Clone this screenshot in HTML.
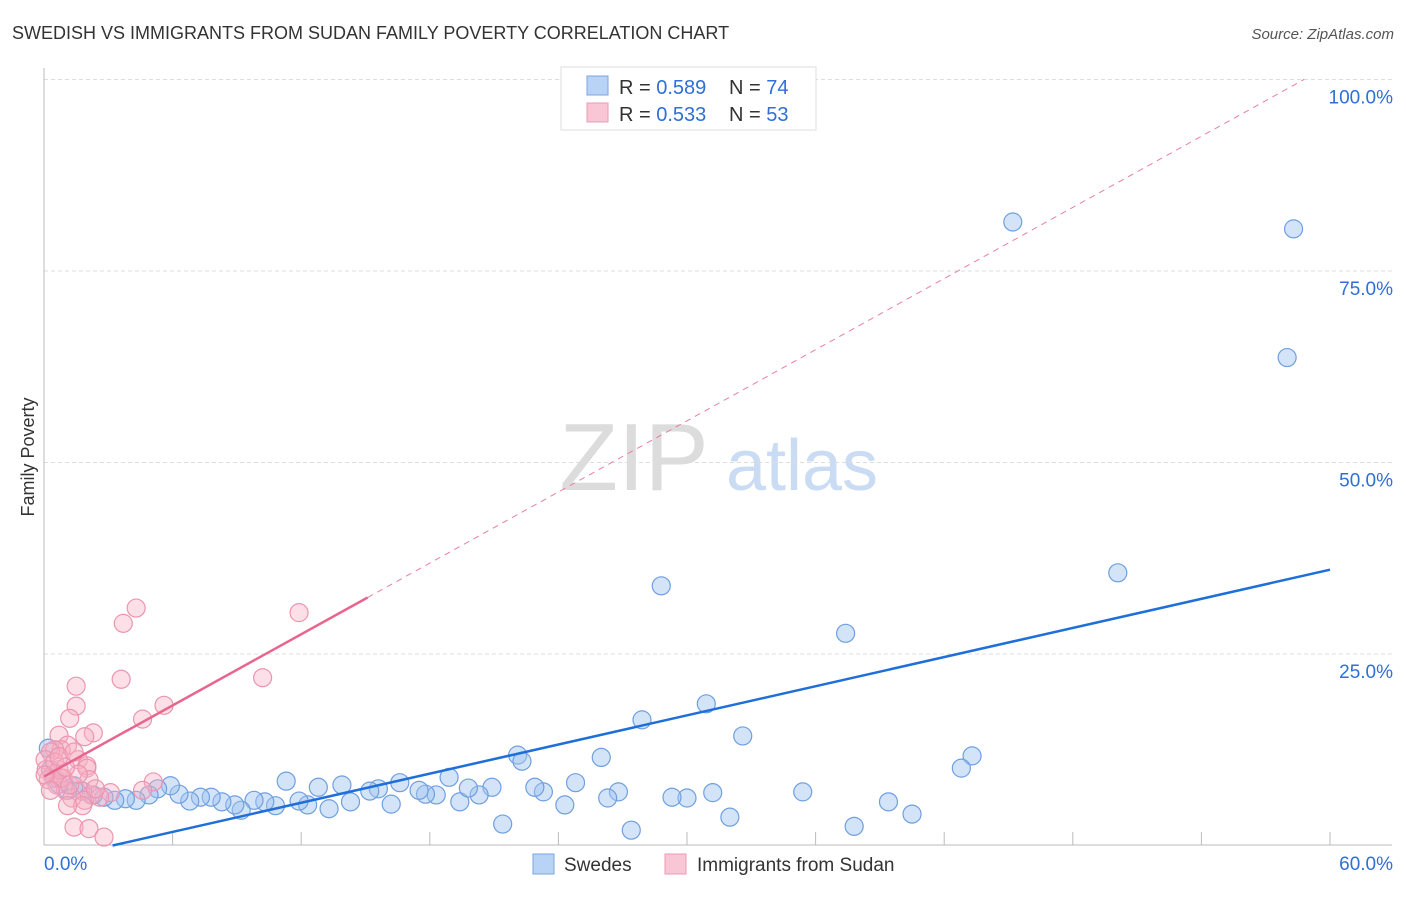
<!DOCTYPE html>
<html><head><meta charset="utf-8">
<style>
body{margin:0;background:#fff;font-family:"Liberation Sans",sans-serif;}
svg text{font-family:"Liberation Sans",sans-serif;}
</style></head>
<body>
<svg id="chart" width="1406" height="892">
<text x="12" y="39" font-size="18" fill="#333">SWEDISH VS IMMIGRANTS FROM SUDAN FAMILY POVERTY CORRELATION CHART</text>
<text x="1394" y="39" font-size="15" fill="#555" text-anchor="end" font-style="italic">Source: ZipAtlas.com</text>
<text x="34" y="457" font-size="18" fill="#333" text-anchor="middle" transform="rotate(-90 34 457)">Family Poverty</text>
<g>
<text x="634" y="490" font-size="96" fill="#dcdcdc" text-anchor="middle" font-family="Liberation Serif, serif">ZIP</text>
<text x="802" y="490" font-size="72" fill="#c9dcf3" text-anchor="middle">atlas</text>
</g>
<g id="grid"></g>
<g id="axes"></g>
<g id="pts"></g>
<g id="trend"></g>
<g>
<rect x="561" y="67" width="255" height="63" fill="#fff" stroke="#ddd"/>
<rect x="587" y="76" width="21" height="19" fill="#b8d3f5" stroke="#7aa5e3"/>
<rect x="587" y="103" width="21" height="19" fill="#f9c6d5" stroke="#eb9bb4"/>
<text x="619" y="94" font-size="20" fill="#333">R = <tspan fill="#2f6fd6">0.589</tspan></text>
<text x="729" y="94" font-size="20" fill="#333">N = <tspan fill="#2f6fd6">74</tspan></text>
<text x="619" y="121" font-size="20" fill="#333">R = <tspan fill="#2f6fd6">0.533</tspan></text>
<text x="729" y="121" font-size="20" fill="#333">N = <tspan fill="#2f6fd6">53</tspan></text>
</g>
<g>
<rect x="533" y="854" width="21" height="20" fill="#b8d3f5" stroke="#7aa5e3"/>
<text x="564" y="871" font-size="19" fill="#333">Swedes</text>
<rect x="665" y="854" width="21" height="20" fill="#f9c6d5" stroke="#eb9bb4"/>
<text x="697" y="871" font-size="19" fill="#333">Immigrants from Sudan</text>
</g>
</svg>
<script>
const xTicks=[0,6,12,18,24,30,36,42,48,54,60];
const yTicks=[25,50,75,100];
const yTickLabels=["25.0%","50.0%","75.0%","100.0%"];
const xLabels=["0.0%","60.0%"];
const blueX=[45.2,58.3,58.0,50.1,28.8,37.4,30.9,27.9,32.6,22.1,22.3,26.0,43.3,42.8,35.4,31.2,30.0,29.3,26.8,26.3,24.8,24.3,23.3,22.9,20.9,20.3,19.4,19.8,18.9,18.3,17.8,17.5,16.6,16.2,15.6,15.2,14.3,13.9,13.3,12.8,12.3,11.9,11.3,10.8,10.3,9.8,9.2,8.9,8.3,7.8,7.3,6.8,6.3,5.9,5.3,4.9,4.3,3.8,3.3,2.8,2.3,1.8,1.4,1.1,0.7,0.5,0.3,0.2,21.4,27.4,32.0,37.8,40.5,39.4];
const blueY=[81.4,80.5,63.7,35.6,33.9,27.7,18.5,16.4,14.3,11.8,11.0,11.5,11.7,10.1,7.0,6.9,6.2,6.3,7.0,6.2,8.2,5.3,7.0,7.6,7.6,6.6,5.7,7.5,8.9,6.6,6.7,7.2,8.2,5.4,7.4,7.1,5.7,7.9,4.8,7.6,5.3,5.8,8.4,5.2,5.7,5.9,4.6,5.3,5.7,6.3,6.3,5.8,6.7,7.8,7.4,6.6,5.9,6.1,5.9,6.3,6.6,7.1,7.8,7.2,8.0,8.8,9.9,12.7,2.8,2.0,3.7,2.5,4.1,5.7];
const pinkX=[4.3,3.7,11.9,3.6,10.2,1.5,1.5,5.6,4.6,1.2,2.3,1.9,0.7,1.1,0.8,0.5,0.3,0.05,1.6,2.0,0.1,0.4,0.9,0.2,0.6,1.0,1.7,2.2,1.9,1.3,1.8,1.1,3.1,5.1,4.6,2.0,1.4,2.1,2.8,0.7,0.8,1.2,0.05,0.3,0.5,2.1,2.6,1.6,1.0,0.7,1.4,2.4];
const pinkY=[31.0,29.0,30.4,21.7,21.9,20.8,18.2,18.3,16.5,16.6,14.7,14.2,14.4,13.1,12.5,12.5,12.2,11.2,11.2,10.4,9.9,9.2,8.8,8.6,7.9,7.2,7.2,6.6,5.9,6.2,5.2,5.2,6.9,8.3,7.2,10.1,2.4,2.2,1.1,9.9,8.8,7.9,9.2,7.2,10.9,8.6,6.3,9.3,10.2,11.6,12.2,7.4];
const blueTrend=[3.2,60];
const blueCoef=[-2.03,0.634];
const pinkTrend=[0,15.1,58.8];
const pinkCoef=[9.0,1.548];

const NS="http://www.w3.org/2000/svg";
const X=v=>44+v/60*1286;
const Y=v=>845.5-v/25*191.5;
function mk(tag,attrs,parent){const e=document.createElementNS(NS,tag);for(const k in attrs)e.setAttribute(k,attrs[k]);parent.appendChild(e);return e;}
const grid=document.getElementById('grid'),axes=document.getElementById('axes'),pts=document.getElementById('pts'),trend=document.getElementById('trend');
yTicks.forEach((t,i)=>{
 const l=mk('line',{x1:44,x2:1392,y1:Y(t),y2:Y(t),stroke:'#ddd','stroke-dasharray':'4 3'},grid);
 
 
 const tx=mk('text',{x:1393,y:Y(t)+24,'font-size':19,fill:'#2f6fd6','text-anchor':'end'},axes);
 tx.textContent=yTickLabels[i];
 
 
});
const ya=mk('line',{x1:44,x2:44,y1:68,y2:845,stroke:'#bbb'},axes);


const xa=mk('line',{x1:44,x2:1392,y1:845,y2:845,stroke:'#bbb'},axes);


xTicks.forEach(t=>{
 const l=mk('line',{x1:X(t),x2:X(t),y1:832,y2:845,stroke:'#bbb'},axes);
 
 
});
const xl0=mk('text',{x:44,y:870,'font-size':19,fill:'#2f6fd6'},axes);xl0.textContent=xLabels[0];


const xl1=mk('text',{x:1393,y:870,'font-size':19,fill:'#2f6fd6','text-anchor':'end'},axes);xl1.textContent=xLabels[1];


blueX.forEach((v,i)=>{
 const c=mk('circle',{cx:X(v),cy:Y(blueY[i]),r:9,fill:'rgba(160,195,240,0.45)',stroke:'#6f9fe0','stroke-width':1.2},pts);
 
 
});
pinkX.forEach((v,i)=>{
 const c=mk('circle',{cx:X(v),cy:Y(pinkY[i]),r:9,fill:'rgba(247,175,196,0.4)',stroke:'#eb95b0','stroke-width':1.2},pts);
 
 
});
const bf=x=>blueCoef[0]+blueCoef[1]*x, pf=x=>pinkCoef[0]+pinkCoef[1]*x;
const bl=mk('line',{x1:X(blueTrend[0]),y1:Y(bf(blueTrend[0])),x2:X(blueTrend[1]),y2:Y(bf(blueTrend[1])),stroke:'#1f6fd9','stroke-width':2.5},trend);


const pd=mk('line',{x1:X(pinkTrend[1]),y1:Y(pf(pinkTrend[1])),x2:X(pinkTrend[2]),y2:Y(pf(pinkTrend[2])),stroke:'#e87fa0','stroke-width':1,'stroke-dasharray':'6 5'},trend);


const pl=mk('line',{x1:X(pinkTrend[0]),y1:Y(pf(pinkTrend[0])),x2:X(pinkTrend[1]),y2:Y(pf(pinkTrend[1])),stroke:'#e8658f','stroke-width':2.5},trend);


</script>
</body></html>
